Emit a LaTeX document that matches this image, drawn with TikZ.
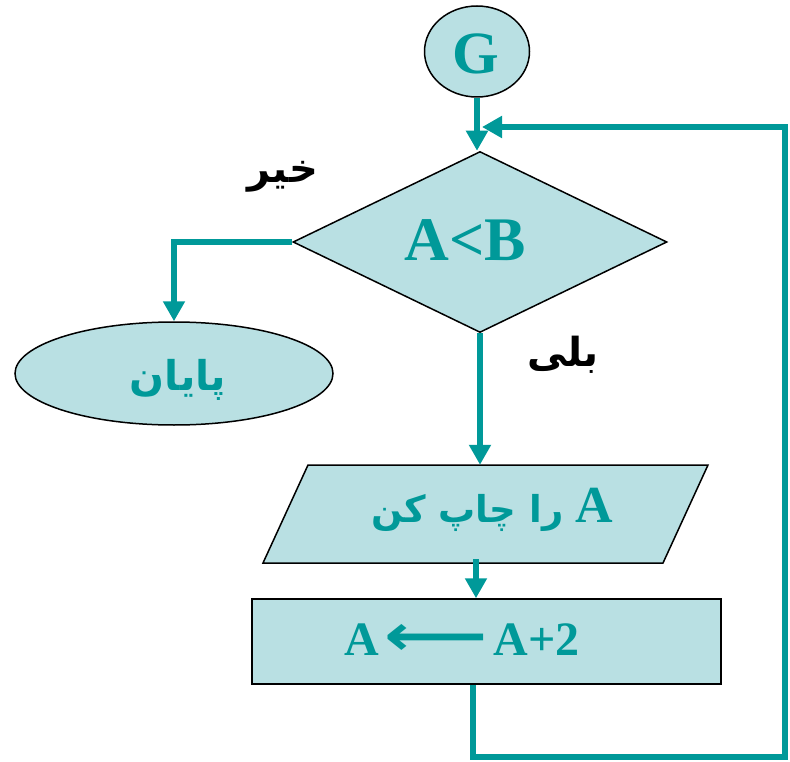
\documentclass[tikz,border=0pt]{standalone}
\usepackage{fontspec}
\setmainfont{Liberation Serif}
\newfontfamily\arabicfont[Script=Arabic]{DejaVu Sans}
\newfontfamily\symfont{DejaVu Sans}
\TeXXeTstate=1
\usetikzlibrary{shapes.geometric,arrows.meta}
\definecolor{tl}{RGB}{0,153,153}
\definecolor{fl}{RGB}{185,224,227}
\begin{document}
\begin{tikzpicture}[x=1pt,y=-1pt,
  box/.style={draw=black, line width=1.5pt, fill=fl, inner sep=0pt},
  txt/.style={text=tl, inner sep=0pt},
  conn/.style={draw=tl, line width=5.5pt, -{Triangle[length=20pt,width=21pt]}},
  lbl/.style={inner sep=0pt, font=\arabicfont\bfseries\fontsize{40}{46}\selectfont}]
\useasboundingbox (0,0) rectangle (790,762);

% shapes
\node[box, ellipse, minimum width=105pt, minimum height=91pt] (G) at (477,51.5) {};
\node[txt, font=\bfseries\fontsize{60}{60}\selectfont] (Gt) at (476,54) {G};

\node[box, diamond, minimum width=374pt, minimum height=181pt] (dia) at (480,242) {};
\node[txt, font=\bfseries\fontsize{62}{62}\selectfont] (diat) at (465,240) {A<B};

\node[box, ellipse, minimum width=318pt, minimum height=103pt] (end) at (174,373.5) {};
\node[txt, font=\arabicfont\bfseries\fontsize{41}{46}\selectfont] (endt) at (178,380) {\beginR پایان\endR};

\draw[box] (308,465) -- (708,465) -- (663,563) -- (263,563) -- cycle;
\node[inner sep=0pt, minimum width=400pt, minimum height=98pt] (par) at (485.5,514) {};
\node[txt] (part) at (492,510) {{\arabicfont\bfseries\fontsize{37}{42}\selectfont\beginR را چاپ کن\endR}\hspace{12pt}{\bfseries\fontsize{52}{52}\selectfont A}};

\node[box, minimum width=469pt, minimum height=85pt] (rect) at (486.5,641.5) {};
\node[txt, font=\bfseries\fontsize{48}{48}\selectfont] (rectt) at (462,640) {A\hspace{6pt}{\symfont\bfseries\scalebox{1.5}[1.2]{⟵}}\hspace{6pt}A+2};

% labels
\node[lbl] (no) at (283,177) {\beginR خیر\endR};
\node[lbl] (yes) at (563,355) {\beginR بلی\endR};

% connectors
\coordinate (c1) at (785,757);
\coordinate (lp) at (482,127);
\draw[conn] (G) -- (G |- dia.north);
\draw[conn] ([xshift=-13.5pt]rect.south) |- (c1) |- (lp);
\draw[conn] (dia.west) -| (end.north);
\draw[conn] (dia.south) -- (dia.south |- par.north);
\draw[conn] ([xshift=-9.5pt,yshift=4pt]par.south) -- ([xshift=-9.5pt]par.south |- rect.north);
\end{tikzpicture}
\end{document}
